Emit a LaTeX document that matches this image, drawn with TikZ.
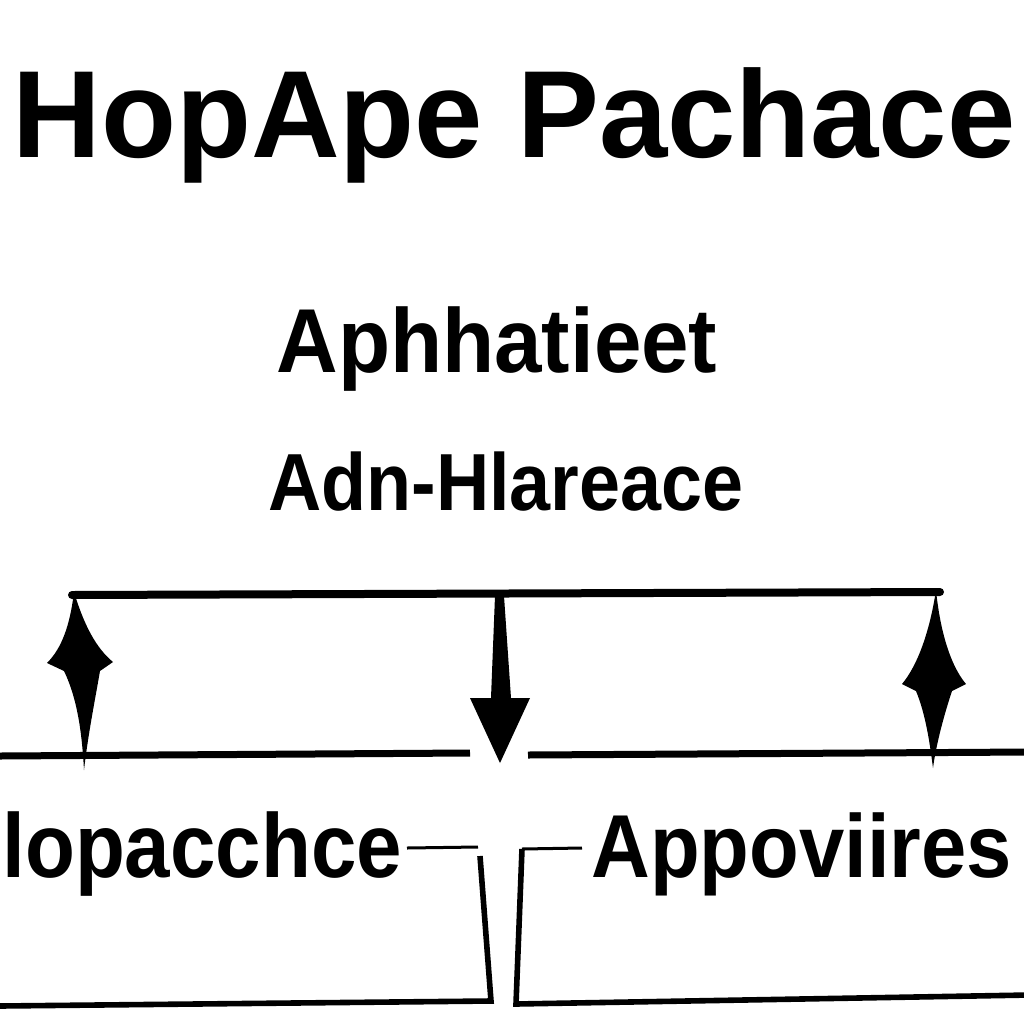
\documentclass[tikz,border=0pt]{standalone}
\usepackage{fontspec}
\setmainfont{Liberation Sans}
\begin{document}
\begin{tikzpicture}[x=0.5pt,y=-0.5pt,
  lbl/.style={inner sep=0pt,anchor=base west,text=black},
  thick line/.style={line width=4pt,line cap=round},
  low line/.style={line width=3.5pt},
  box line/.style={line width=2.8pt},
  thin line/.style={line width=1.5pt},
  arrowfill/.style={fill=black,draw=none}]
\useasboundingbox (0,0) rectangle (1024,1024);
\fill[white] (0,0) rectangle (1024,1024);
\begin{scope}
\clip (0,0) rectangle (1024,1024);
% texts
\node[lbl] (title) at (12,157) {\fontsize{60.8}{70}\selectfont\bfseries\scalebox{1.01}[1.02]{HopApe Pachace}};
\node[lbl] (mid1) at (276,372) {\fontsize{45.4}{52}\selectfont\bfseries\scalebox{0.94}[1]{Aphhatieet}};
\node[lbl] (mid2) at (268,510) {\fontsize{40.5}{48}\selectfont\bfseries\scalebox{0.91}[1]{Adn-Hlareace}};
\node[lbl] (left) at (2,877) {\fontsize{45.4}{52}\selectfont\bfseries\scalebox{0.90}[1]{lopacchce}};
\node[lbl] (right) at (591,877) {\fontsize{44.7}{52}\selectfont\bfseries\scalebox{0.91}[1]{Appoviires}};
% coordinates
\coordinate (tl) at (72,595);
\coordinate (tr) at (940,592);
\coordinate (ll1) at (0,756);
\coordinate (ll2) at (470,753);
\coordinate (lr1) at (528,755);
\coordinate (lr2) at (1030,752);
\coordinate (la) at (407,848);
\coordinate (lb) at (478,847);
\coordinate (lc) at (480,856);
\coordinate (ld) at (491,1001);
\coordinate (le) at (0,1006);
\coordinate (ra) at (582,848);
\coordinate (rb) at (522,849);
\coordinate (rc) at (516,1004);
\coordinate (rd) at (1030,995);
% main lines
\draw[thick line] (tl) -- (tr);
\draw[low line] (ll1) -- (ll2);
\draw[low line] (lr1) -- (lr2);
% left box
\draw[thin line] (la) -- (lb);
\draw[box line] (lc) -- (ld) -- (le);
% right box
\draw[thin line] (ra) -- (rb);
\draw[box line] (rb) -- (rc) -- (rd);
% left arrow (double)
\fill[arrowfill] (74,592) .. controls (84,625) and (96,648) .. (113,662)
  -- (100,671) .. controls (95,700) and (88,735) .. (84,770)
  .. controls (82,735) and (78,700) .. (64,671) -- (47,663)
  .. controls (62,648) and (70,625) .. (74,592) -- cycle;
% middle arrow
\fill[arrowfill] (495,596) -- (504,596) -- (511,698) -- (530,698) -- (500,763) -- (470,698) -- (491,698) -- cycle;
% right arrow (double)
\fill[arrowfill] (936,590) .. controls (940,630) and (950,665) .. (966,684)
  -- (952,691) .. controls (944,715) and (936,745) .. (933,768)
  .. controls (930,745) and (926,715) .. (916,691) -- (902,684)
  .. controls (918,665) and (930,630) .. (936,590) -- cycle;
\end{scope}
\end{tikzpicture}
\end{document}
